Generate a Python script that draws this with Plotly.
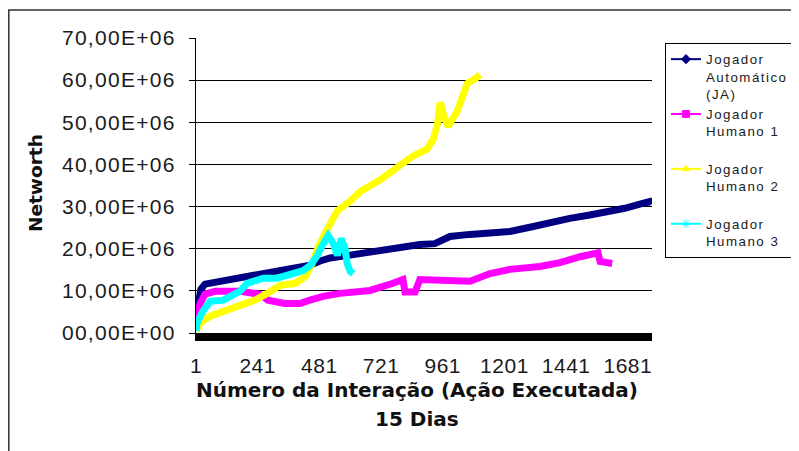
import plotly.graph_objects as go

# ---- data (values in millions) ----
ja_x = [1, 9, 20, 36, 75, 134, 212, 291, 369, 445, 484, 523, 581, 639, 716, 794, 872, 930, 989, 1066, 1144, 1222, 1300, 1378, 1455, 1533, 1611, 1669, 1728, 1767, 1775]
ja_y = [4.0, 6.0, 10.4, 11.6, 12.0, 12.8, 13.7, 14.5, 15.4, 16.1, 17.1, 17.8, 18.3, 18.8, 19.8, 20.5, 21.0, 21.2, 22.9, 23.4, 23.6, 24.1, 25.1, 26.3, 27.2, 28.0, 28.7, 29.6, 30.6, 31.2, 30.6]

h1_x = [1, 5, 17, 36, 75, 172, 250, 281, 346, 405, 444, 495, 561, 678, 767, 806, 814, 853, 872, 950, 1067, 1145, 1222, 1339, 1417, 1495, 1553, 1565, 1573, 1620]
h1_y = [1.2, 4.0, 7.0, 9.2, 9.9, 9.9, 9.2, 7.8, 7.0, 7.0, 7.8, 8.7, 9.4, 10.1, 11.8, 12.7, 9.7, 9.7, 12.7, 12.7, 12.3, 14.1, 15.1, 15.8, 16.7, 18.1, 19.0, 19.0, 17.0, 16.5]

h2_x = [1, 17, 56, 114, 172, 231, 278, 328, 387, 426, 453, 477, 512, 551, 601, 639, 716, 783, 845, 900, 924, 940, 951, 967, 982, 1017, 1041, 1056, 1091, 1106]
h2_y = [0.5, 2.4, 4.0, 5.2, 6.4, 7.8, 9.4, 11.3, 11.8, 13.4, 16.5, 20.5, 24.7, 29.0, 31.3, 33.5, 36.3, 39.4, 42.0, 43.6, 46.0, 49.5, 54.7, 51.1, 49.0, 52.6, 56.6, 59.2, 60.5, 61.3]

h3_x = [1, 5, 28, 56, 107, 172, 200, 262, 316, 367, 418, 445, 473, 496, 515, 535, 551, 566, 581, 589, 601, 613]
h3_y = [0.5, 2.4, 5.2, 7.5, 7.8, 9.9, 11.8, 13.0, 13.0, 14.1, 14.8, 16.0, 18.4, 21.2, 23.1, 21.2, 18.4, 22.4, 20.0, 16.5, 14.6, 14.1]

series_names = ["Jogador<br>Automático<br>(JA)", "Jogador<br>Humano 1<br> ", "Jogador<br>Humano 2<br> ", "Jogador<br>Humano 3"]
series_colors = ["#000080", "#FF00FF", "#FFFF00", "#00FFFF"]
series_symbols = ["diamond", "square", "triangle-up", "asterisk-open"]

y_tick_vals = [0, 10, 20, 30, 40, 50, 60, 70]
y_tick_text = ["00,00E+00", "10,00E+06", "20,00E+06", "30,00E+06", "40,00E+06", "50,00E+06", "60,00E+06", "70,00E+06"]
x_tick_vals = [1, 241, 481, 721, 961, 1201, 1441, 1681]
x_tick_text = ["1", "241", "481", "721", "961", "1201", "1441", "1681"]

# page has an 8px body margin, so figure coords = page coords - 8
W, H = 791, 443
L, R, T, B = 188, 644, 30, 325


def spaced(s, sp):
    return '<span style="letter-spacing:%spx">%s</span>' % (sp, s)


fig = go.Figure()
data = [(ja_x, ja_y), (h1_x, h1_y), (h2_x, h2_y), (h3_x, h3_y)]
for i in range(4):
    xs, ys = data[i]
    fig.add_trace(go.Scatter(x=xs, y=ys, mode="lines",
                             line=dict(color=series_colors[i], width=7),
                             showlegend=False, hoverinfo="skip"))
for i in range(4):
    fig.add_trace(go.Scatter(x=[None], y=[None], mode="lines+markers",
                             name="<br>".join(spaced(p, 1.5) if p.strip() else p for p in series_names[i].split("<br>")),
                             line=dict(color=series_colors[i], width=2),
                             marker=dict(symbol=series_symbols[i], size=7, color=series_colors[i],
                                         line=dict(color=series_colors[i], width=1))))


def px_x(p):
    return (p - L) / (R - L)


def px_y(p):
    return (B - p) / (B - T)


fig.update_layout(
    width=W, height=H,
    margin=dict(l=L, r=W - R, t=T, b=H - B, pad=0, autoexpand=False),
    paper_bgcolor="white", plot_bgcolor="white",
    font=dict(family="Liberation Sans, Arial, sans-serif", color="#1a1a1a"),
    xaxis=dict(range=[1, 1775], tickvals=x_tick_vals, ticktext=[spaced(t, 0.5) for t in x_tick_text],
               ticks="", showgrid=False,
               showline=True, linecolor="black", linewidth=8, zeroline=False,
               tickfont=dict(size=21, color="#1a1a1a"), ticklabelstandoff=7),
    yaxis=dict(range=[0, 70], tickvals=y_tick_vals, ticktext=[spaced(t, 1.3) for t in y_tick_text],
               ticks="outside", ticklen=6, tickcolor="black", tickwidth=1,
               showline=True, linecolor="black", linewidth=1,
               showgrid=True, gridcolor="black", gridwidth=1, zeroline=False,
               tickfont=dict(size=21, color="#1a1a1a"), ticklabelstandoff=9),
    legend=dict(x=px_x(657), y=px_y(35), xanchor="left", yanchor="top",
                bgcolor="white", bordercolor="black", borderwidth=1,
                font=dict(size=13.3, color="#1a1a1a"), valign="top", tracegroupgap=0),
    showlegend=True,
    shapes=[dict(type="rect", xref="paper", yref="paper",
                 x0=px_x(0.8), x1=px_x(830), y0=px_y(2), y1=px_y(480),
                 line=dict(color="#333333", width=1.5), fillcolor="rgba(0,0,0,0)", layer="below")],
    annotations=[
        dict(text="<b>Número da Interação (Ação Executada)</b>", xref="paper", yref="paper",
             x=px_x(409), y=px_y(382), xanchor="center", yanchor="middle", showarrow=False,
             font=dict(family="DejaVu Sans, Verdana, sans-serif", size=20, color="#111111")),
        dict(text="<b>15 Dias</b>", xref="paper", yref="paper",
             x=px_x(409), y=px_y(411), xanchor="center", yanchor="middle", showarrow=False,
             font=dict(family="DejaVu Sans, Verdana, sans-serif", size=20, color="#111111")),
        dict(text="<b>Networth</b>", xref="paper", yref="paper", textangle=-90,
             x=px_x(27), y=px_y(175), xanchor="center", yanchor="middle", showarrow=False,
             font=dict(family="DejaVu Sans, Verdana, sans-serif", size=18.5, color="#111111")),
    ],
)

fig.write_html("out.html")
